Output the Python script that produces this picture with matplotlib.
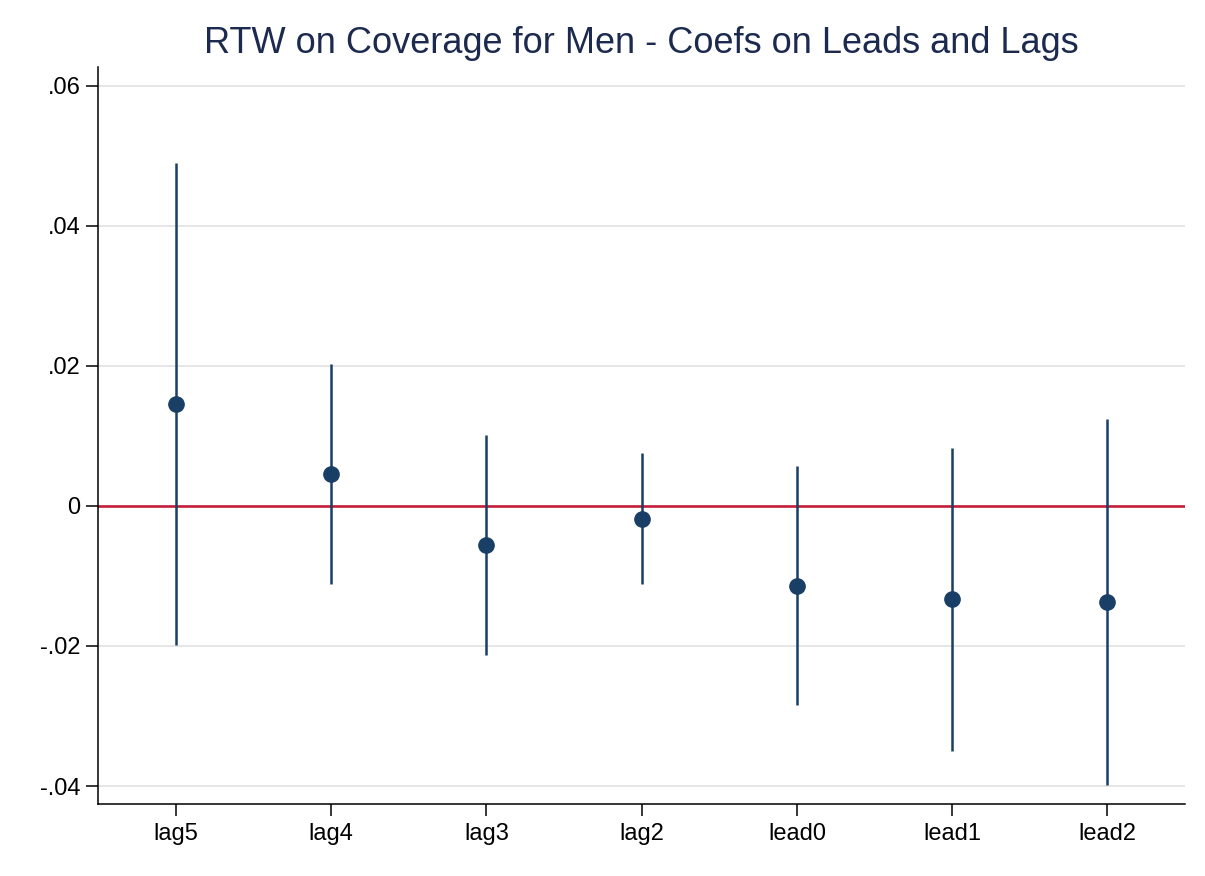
import numpy as np
import matplotlib
matplotlib.use("Agg")
import matplotlib.pyplot as plt

plt.rcParams["font.family"] = ["Liberation Sans", "DejaVu Sans"]

# coefficients and 95% CI bounds
terms = ["lag5", "lag4", "lag3", "lag2", "lead0", "lead1", "lead2"]
coef = [0.0146, 0.0046, -0.0056, -0.0018, -0.0115, -0.0133, -0.0137]
ci_low = [-0.0199, -0.0112, -0.0213, -0.0111, -0.0284, -0.0350, -0.0399]
ci_high = [0.0490, 0.0203, 0.0101, 0.0076, 0.0057, 0.0083, 0.0124]
yticks = [-0.04, -0.02, 0, 0.02, 0.04, 0.06]
ytick_labels = ["-.04", "-.02", "0", ".02", ".04", ".06"]

navy = "#1a3f66"

fig = plt.figure(figsize=(12.05, 8.76), dpi=100)
ax = fig.add_axes([0.0816, 0.0822, 0.9018, 0.8417])

x = np.arange(1, len(terms) + 1)

ax.vlines(x, ci_low, ci_high, color=navy, linewidth=1.8, zorder=3)
ax.plot(x, coef, "o", color=navy, markersize=11, zorder=4)
ax.axhline(0, color="#c41e3a", linewidth=1.9, zorder=2)

ax.set_xlim(0.5, 7.5)
ax.set_ylim(-0.04257, 0.06276)
ax.set_xticks(x)
ax.set_xticklabels(terms)
ax.set_yticks(yticks)
ax.set_yticklabels(ytick_labels)

ax.grid(axis="y", color="#e6e6e6", linewidth=1.4, zorder=0)
ax.set_axisbelow(True)

for side in ["top", "right"]:
    ax.spines[side].set_visible(False)
for side in ["left", "bottom"]:
    ax.spines[side].set_linewidth(1.1)
    ax.spines[side].set_color("black")

ax.tick_params(axis="both", length=8.5, width=1.1, labelsize=17)
ax.tick_params(axis="y", pad=4.5)
ax.tick_params(axis="x", pad=5.5)

fig.text(0.532, 0.95, "RTW on Coverage for Men - Coefs on Leads and Lags",
         ha="center", va="center", fontsize=26, color="#1b2a4e")

fig.savefig("out.png", dpi=100)
